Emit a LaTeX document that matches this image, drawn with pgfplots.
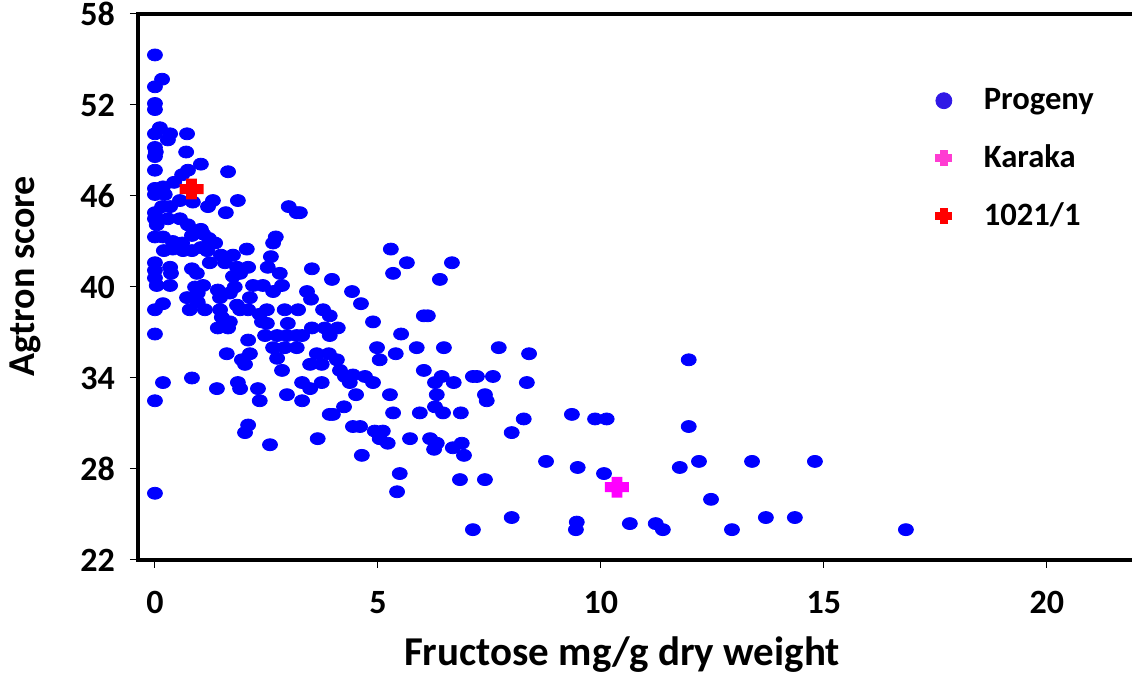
\documentclass[border=0pt]{standalone}
\usepackage{pgfplots}
\pgfplotsset{compat=1.18}
\usepackage{fontspec}
\setmainfont{Carlito}

\definecolor{progeny}{RGB}{0,0,255}
\definecolor{progenyleg}{RGB}{48,24,230}
\definecolor{karaka}{RGB}{255,0,255}
\definecolor{karakaleg}{RGB}{255,60,210}
\definecolor{cultivar}{RGB}{255,0,0}

% thick plus sign used for the two reference cultivars
\pgfdeclareplotmark{fatplus}{%
  \pgfpathrectangle{\pgfpoint{-6pt}{-2.5pt}}{\pgfpoint{12pt}{5pt}}%
  \pgfpathrectangle{\pgfpoint{-2.7pt}{-5.2pt}}{\pgfpoint{5.4pt}{10.4pt}}%
  \pgfusepathqfill}

\pgfplotstableread{
x y
0.00 55.3
0.16 53.7
0.00 53.2
0.00 52.1
0.00 51.7
0.11 50.5
0.00 50.1
0.34 50.1
0.29 49.7
0.72 50.1
0.00 49.2
0.02 48.9
0.00 48.6
0.70 48.9
0.00 47.7
1.03 48.1
1.64 47.6
0.74 47.7
0.61 47.4
0.43 46.9
0.00 46.5
0.18 46.6
0.00 46.1
0.22 46.1
0.85 45.6
0.56 45.7
0.34 45.3
0.16 45.3
1.30 45.7
1.19 45.3
1.86 45.7
1.59 44.9
3.00 45.3
3.18 44.9
0.00 44.9
0.00 44.5
0.29 44.5
0.56 44.5
0.74 44.1
0.04 44.1
1.03 43.8
0.00 43.3
0.18 43.3
0.40 43.0
0.61 42.9
0.83 43.4
1.08 43.5
1.21 43.2
1.35 42.9
0.20 42.4
0.40 42.5
0.63 42.4
0.83 42.4
1.03 42.6
1.17 42.4
1.48 42.1
1.75 42.1
2.06 42.5
1.23 41.6
1.57 41.6
2.71 43.3
2.65 42.9
2.60 42.0
0.00 41.6
0.00 41.1
0.00 40.6
0.04 40.1
0.34 41.3
0.36 40.9
0.34 40.1
0.83 41.2
0.94 40.9
1.84 41.3
2.09 41.3
1.91 40.9
2.53 41.3
2.80 40.9
3.52 41.2
3.97 40.5
1.75 40.7
1.79 40.0
1.68 39.6
2.20 40.1
2.42 40.1
2.65 39.7
2.85 40.1
0.90 40.0
1.08 40.1
0.96 39.6
1.41 39.8
1.46 39.3
2.13 39.3
0.72 39.3
0.96 39.0
0.78 38.5
1.12 38.5
0.00 38.5
0.18 38.9
1.46 38.5
1.50 38.0
1.68 37.7
1.41 37.3
1.64 37.3
1.91 38.5
2.09 38.5
1.84 38.8
2.35 38.2
2.51 38.5
2.40 37.7
2.51 37.6
2.91 38.5
3.21 38.5
2.98 37.6
3.41 39.7
3.50 39.2
3.77 38.5
3.52 37.3
3.81 37.3
0.00 36.9
2.47 36.8
2.74 36.8
2.96 36.8
3.18 36.8
3.30 36.8
2.65 36.0
2.91 36.0
3.18 36.0
2.09 36.5
2.13 35.6
1.95 35.2
2.02 34.9
1.61 35.6
2.74 35.3
2.85 34.5
3.63 35.6
3.48 34.9
3.74 34.9
3.90 35.6
0.18 33.7
0.83 34.0
1.39 33.3
1.86 33.7
1.91 33.3
2.31 33.3
3.30 33.7
3.48 33.3
3.74 33.7
0.00 32.5
2.35 32.5
2.96 32.9
3.30 32.5
3.92 31.6
2.09 30.9
2.02 30.4
2.58 29.6
3.65 30.0
0.00 26.4
3.25 44.9
5.29 42.5
5.65 41.6
5.34 40.9
6.66 41.6
6.39 40.5
4.42 39.7
4.62 38.9
3.92 38.1
4.89 37.7
6.03 38.1
6.12 38.1
4.10 37.3
3.92 36.8
5.52 36.9
4.98 36.0
5.04 35.2
5.40 35.6
5.87 36.0
6.48 36.0
7.71 36.0
8.39 35.6
4.08 35.2
4.15 34.5
4.26 34.1
4.44 34.2
4.71 34.1
4.89 33.7
4.37 33.7
4.51 32.9
6.03 34.5
6.28 33.7
6.43 34.1
6.70 33.7
6.32 32.9
6.28 32.1
6.46 31.7
7.13 34.1
7.22 34.1
7.58 34.1
7.40 32.9
7.44 32.5
8.34 33.7
4.24 32.1
3.99 31.6
5.27 32.9
5.34 31.7
5.94 31.7
6.86 31.7
4.44 30.8
4.60 30.8
4.93 30.5
5.11 30.5
5.04 30.0
5.22 29.7
5.72 30.0
6.17 30.0
6.32 29.7
6.88 29.7
6.68 29.4
8.00 30.4
8.27 31.3
6.26 29.3
6.93 28.9
4.64 28.9
5.49 27.7
5.43 26.5
6.84 27.3
7.40 27.3
8.00 24.8
7.13 24.0
11.97 35.2
9.35 31.6
9.87 31.3
10.13 31.3
11.97 30.8
8.77 28.5
9.48 28.1
10.07 27.7
11.77 28.1
12.20 28.5
13.39 28.5
12.47 26.0
9.46 24.5
9.44 24.0
10.65 24.4
11.23 24.4
11.39 24.0
12.94 24.0
13.70 24.8
14.35 24.8
14.80 28.5
16.84 24.0
}\progeny

\begin{document}
\begin{tikzpicture}
\useasboundingbox (-69pt,-57.5pt) rectangle (497pt,280pt);
\begin{axis}[
  at={(0pt,0pt)}, anchor=south west,
  scale only axis, width=499pt, height=273pt,
  xmin=-0.38, xmax=22, ymin=22, ymax=58,
  xtick={0,5,10,15,20}, ytick={22,28,34,40,46,52,58},
  tick pos=left, tick align=outside,
  major tick length=4pt,
  every tick/.style={black, line width=0.5pt},
  axis line style={line width=1.75pt},
  /pgf/number format/assume math mode=true,
  ticklabel style={font=\fontsize{17}{17}\selectfont\bfseries},
  yticklabel style={xshift=-4pt},
  xticklabel style={yshift=-8pt},
  every axis x label/.style={at={(axis description cs:0.485,-0.174)}, anchor=center,
    font=\fontsize{20.5}{20.5}\selectfont\bfseries},
  every axis y label/.style={at={(axis description cs:0,0.52)}, xshift=-56.5pt, rotate=90, anchor=center,
    font=\fontsize{19}{19}\selectfont\bfseries},
  xlabel={Fructose mg/g dry weight},
  ylabel={Agtron score},
  legend style={at={(axis cs:17.36,53.5)}, anchor=north west, draw=none, fill=none,
    font=\fontsize{16.3}{16.3}\selectfont\bfseries, row sep=14pt,
    nodes={inner sep=1pt}},
  legend cell align=left,
]
\addplot[only marks, mark=*, color=progeny, mark size=3pt, mark options={xscale=1.25},
  legend image code/.code={\fill[progenyleg] (0pt,0pt) circle (4pt); \path[draw=none] (0pt,0pt) -- (19pt,0pt);}]
  table {\progeny};
\addlegendentry{Progeny}
\addplot[only marks, mark=fatplus, color=karaka,
  legend image code/.code={\fill[karakaleg] (-4pt,-1.8pt) rectangle (4pt,1.8pt); \fill[karakaleg] (-1.9pt,-3.8pt) rectangle (1.9pt,3.8pt); \path[draw=none] (0pt,0pt) -- (19pt,0pt);}]
  coordinates {(10.36,26.8)};
\addlegendentry{Karaka}
\addplot[only marks, mark=fatplus, color=cultivar,
  legend image code/.code={\fill[cultivar] (-4pt,-1.8pt) rectangle (4pt,1.8pt); \fill[cultivar] (-1.9pt,-3.8pt) rectangle (1.9pt,3.8pt); \path[draw=none] (0pt,0pt) -- (19pt,0pt);}]
  coordinates {(0.82,46.46)};
\addlegendentry{1021/1}
\end{axis}
\end{tikzpicture}
\end{document}
